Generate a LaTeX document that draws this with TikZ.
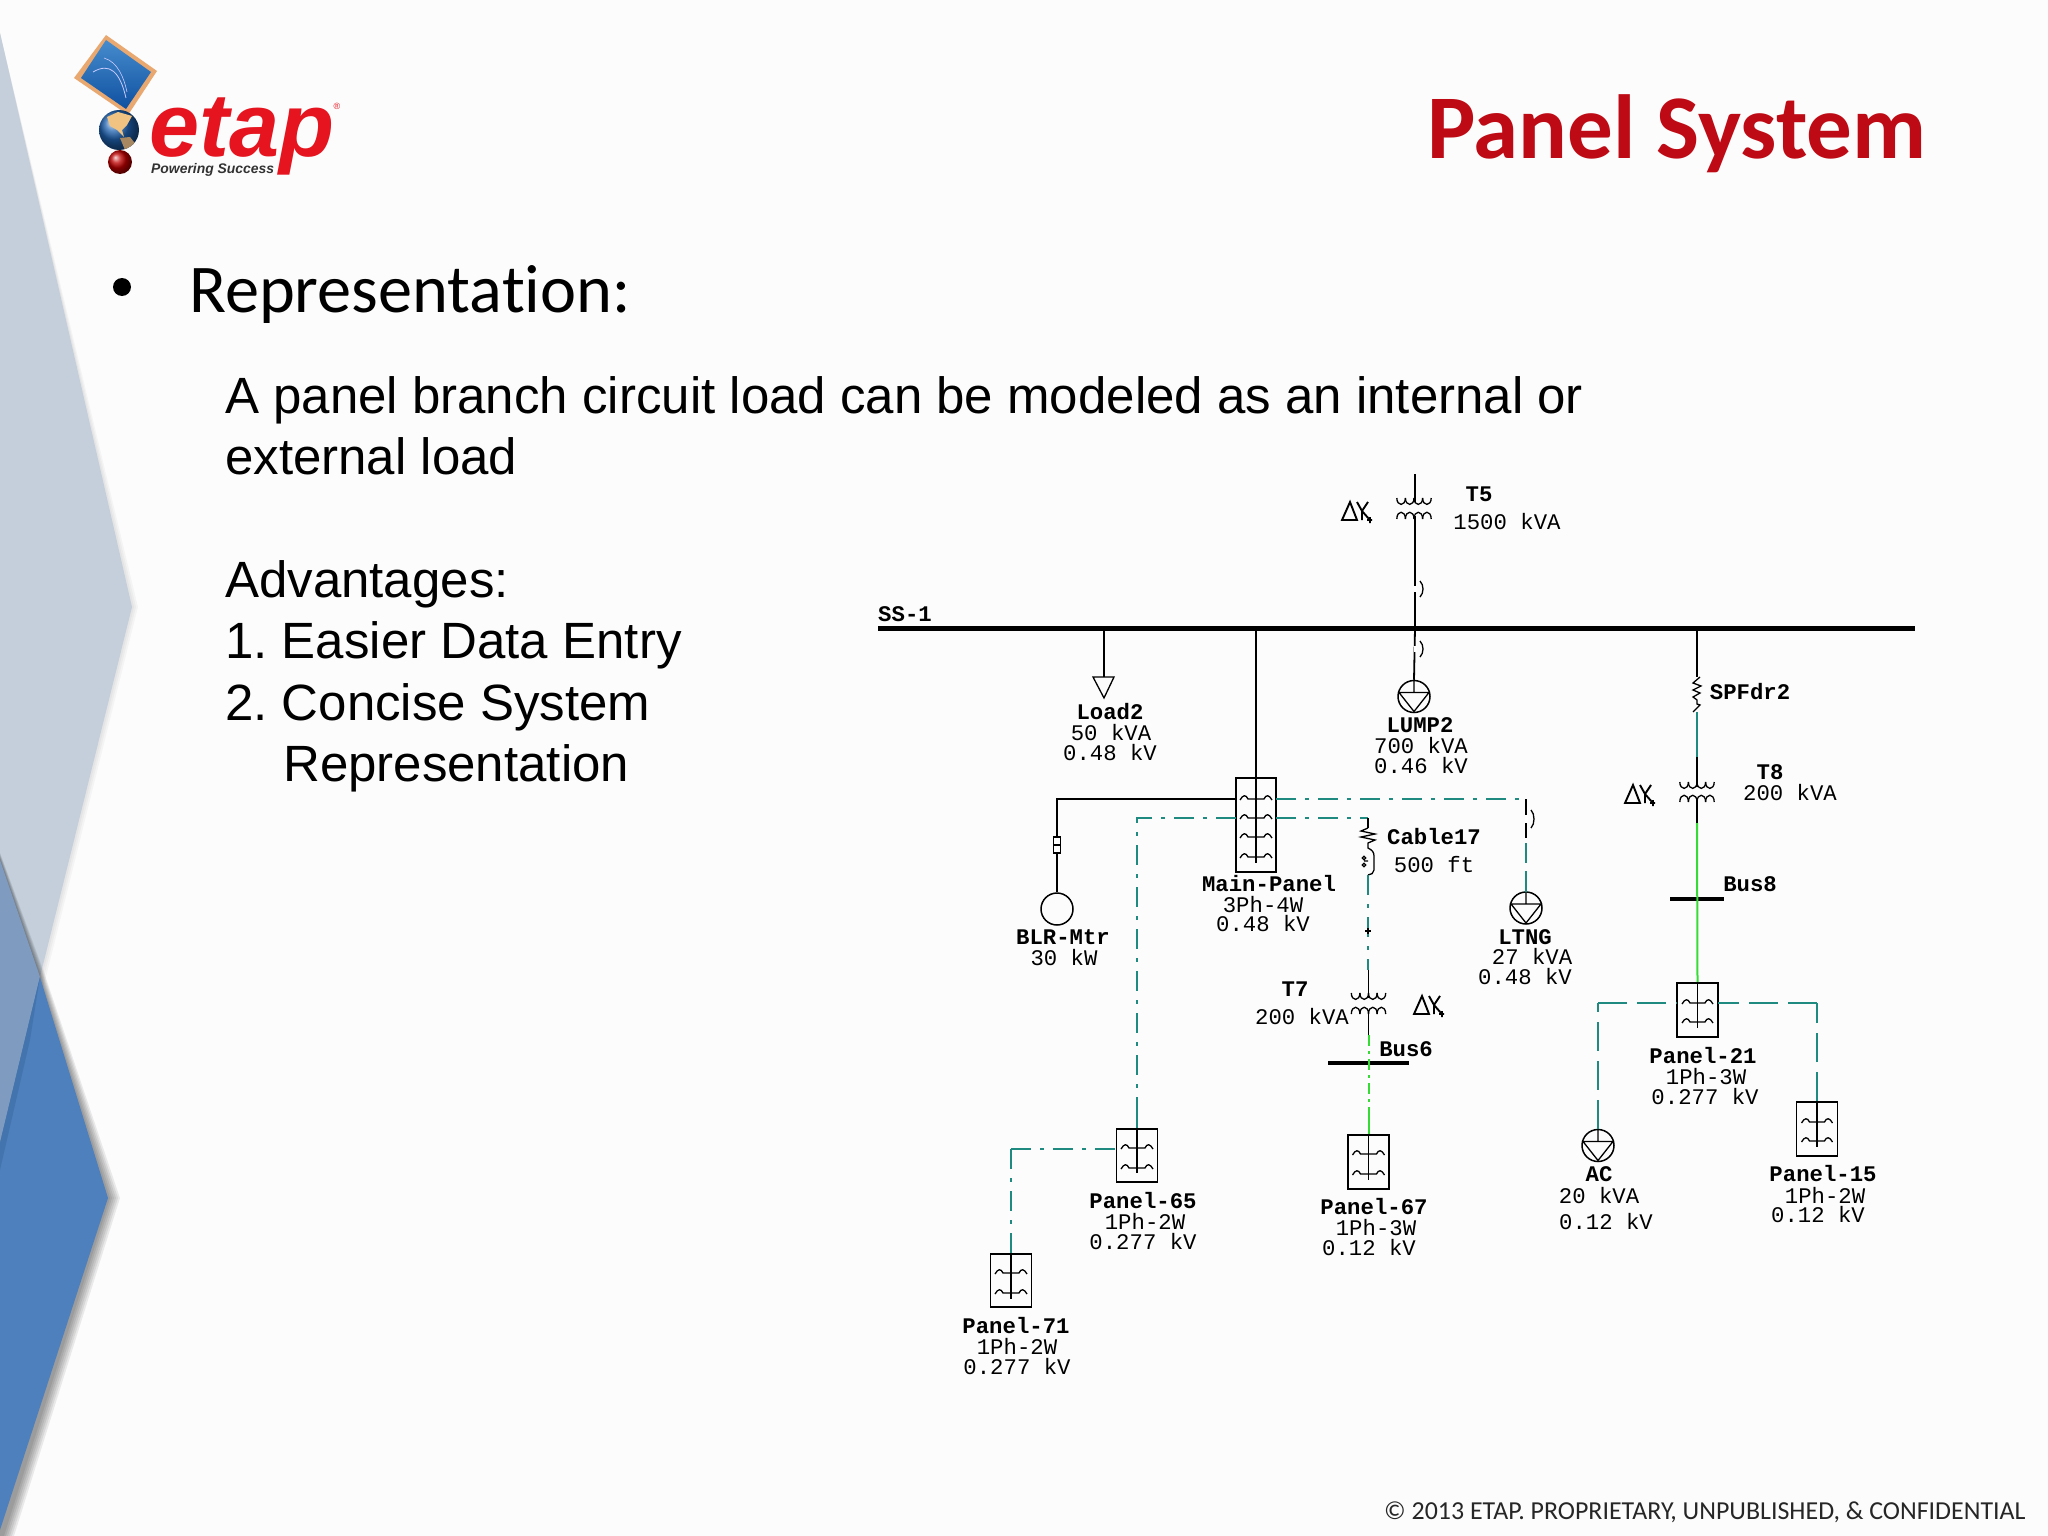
\documentclass[tikz,border=0pt]{standalone}
\usepackage{fontspec}
\setmainfont{Liberation Sans}
\newfontfamily\carl[Ligatures=NoCommon]{Carlito}
\newfontfamily\monof{Liberation Mono}
\usetikzlibrary{calc}
\AtBeginDocument{\frenchspacing}
\definecolor{etapred}{HTML}{E5141F}
\definecolor{titlered}{HTML}{BE0A14}
\definecolor{lightbg}{HTML}{C4CFDB}
\definecolor{midblue}{HTML}{7F9CC0}
\definecolor{mainblue}{HTML}{4E80BD}
\definecolor{darkblue}{HTML}{4474AE}
\definecolor{tealw}{HTML}{1F8A80}
\definecolor{greenw}{HTML}{35DC35}
\definecolor{frametan}{HTML}{E8A870}
\definecolor{scrA}{HTML}{468CCD}
\definecolor{scrB}{HTML}{0F50A0}
\definecolor{globeb}{HTML}{1F62B0}
\definecolor{land}{HTML}{F0C382}
\definecolor{landb}{HTML}{A88860}
\tikzset{
  wire/.style={draw=black,line width=1.8pt},
  tealsolid/.style={draw=tealw,line width=2pt},
  teald/.style={draw=tealw,line width=2pt,dash pattern=on 20pt off 9pt on 4pt off 9pt},
  tealdash/.style={draw=tealw,line width=2pt,dash pattern=on 29pt off 10pt},
  greens/.style={draw=greenw,line width=2pt},
  greend/.style={draw=greenw,line width=2pt,dash pattern=on 11pt off 5pt on 3pt off 5pt},
  sym/.style={draw=black,line width=1.3pt},
  dysym/.style={draw=black,line width=1.9pt},
  panelbox/.style={draw=black,line width=1.8pt,inner sep=0pt,minimum width=41pt},
  busbar/.style={fill=black,inner sep=0pt},
  circ/.style={circle,draw=black,line width=1.5pt,inner sep=0pt,minimum size=32pt},
  lb/.style={inner sep=0pt,text height=14pt,text depth=0pt,font=\monof\bfseries\fontsize{22.3}{24}\selectfont},
  lw/.style={inner sep=0pt,text height=14pt,text depth=0pt,font=\monof\fontsize{22.3}{24}\selectfont},
  bodyt/.style={anchor=base west,inner sep=0pt,font=\fontsize{51}{60}\selectfont},
  shad/.style={fill=black,draw=none},
}
\newcommand{\humpbar}[3]{%
  \draw[sym] ({#1-#3},{#2+1}) .. controls ({#1-#3+3},{#2-4.5}) and ({#1-#3+6},{#2-4.5}) .. ({#1-#3+8},#2) -- ({#1+#3-8},#2) .. controls ({#1+#3-6},{#2-4.5}) and ({#1+#3-3},{#2-4.5}) .. ({#1+#3},{#2+1});}
\newcommand{\xfmr}[3]{%
  \foreach \i in {-1.5,-0.5,0.5,1.5}{
    \draw[sym] ({#1+\i*8.6-4.3},#2) .. controls ({#1+\i*8.6-4.3},{#2+8.5}) and ({#1+\i*8.6+4.3},{#2+8.5}) .. ({#1+\i*8.6+4.3},#2);
    \draw[sym] ({#1+\i*8.6-4.3},{#3+7}) .. controls ({#1+\i*8.6-4.3},{#3-2}) and ({#1+\i*8.6+4.3},{#3-2}) .. ({#1+\i*8.6+4.3},{#3+7});
  }}
\newcommand{\dwy}[2]{%
  \draw[dysym] ({#1},{#2+18}) -- ({#1+8},#2) -- ({#1+15},{#2+18}) -- cycle;
  \draw[dysym] ({#1+15},{#2}) -- ({#1+20},{#2+9}) -- ({#1+26},#2) ({#1+20},{#2+9}) -- ({#1+27},{#2+17}) ({#1+20},{#2+9}) -- ({#1+20},{#2+18}) ({#1+25},{#2+18}) -- ({#1+30},{#2+18}) ({#1+28},{#2+15}) -- ({#1+28},{#2+21});}
\newcommand{\brk}[3]{%
  \draw[white,line width=3pt] (#1,{#2+5}) -- (#1,{#3-5});
  \draw[sym] ({#1+5},#2) .. controls ({#1+9},{#2+4}) and ({#1+9},{#3-4}) .. ({#1+5},#3);}
\newcommand{\lumpsym}[2]{%
  \draw[sym] ({#1-15},{#2-4}) -- ({#1+15},{#2-4}) -- (#1,{#2+15}) -- cycle (#1,{#2-16}) -- (#1,{#2-4});}
\begin{document}
\begin{tikzpicture}[x=1pt,y=-1pt]
\useasboundingbox (0,0) rectangle (2048,1536);
\fill[white!99!black] (0,0) rectangle (2048,1536);
% background chevrons
\foreach \d in {2,4,6}{
  \fill[shad,opacity=0.03] (0,33) -- ({132+\d},607) -- ({40+\d},977) -- (0,1143) -- cycle;}
\fill[lightbg] (0,33) -- (132,607) -- (40,977) -- (0,1143) -- cycle;
\foreach \d in {2,4,6,8,10,12}{
  \fill[shad,opacity=0.075] ({0},{860-\d*0.6}) -- ({40+\d*0.3},{977-\d*0.5}) -- ({108+\d},1198) -- ({\d+2},1536) -- (0,1536) -- cycle;}
\fill[midblue] (0,860) -- (40,977) -- (0,1143) -- cycle;
\fill[mainblue] (40,977) -- (108,1198) -- (0,1530) -- (0,1143) -- cycle;
\fill[darkblue] (40,977) -- (30,1040) -- (0,1170) -- (0,1143) -- cycle;
% logo
\fill[frametan] (106,35) -- (157,71) -- (128,115) -- (74,78) -- cycle;
\shade[top color=scrA,bottom color=scrB] (106,40) -- (151,72) -- (126,109) -- (81,78) -- cycle;
\draw[white!80!blue,line width=0.8pt] (93,72) .. controls (110,62) and (120,72) .. (126,98);
\draw[white!80!blue,line width=0.6pt] (104,58) .. controls (118,62) and (124,78) .. (127,92);
\shade[ball color=globeb] (119,130) circle (20);
\begin{scope}
\clip (119,130) circle (20);
\fill[land] (107,117) -- (118,112) -- (132,116) -- (127,125) -- (122,130) -- (124,137) -- (117,130) -- (110,126) -- cycle;
\fill[landb] (120,138) -- (130,137) -- (137,146) -- (125,150) -- cycle;
\end{scope}
\shade[ball color=red!75!black] (120,162) circle (12);
\node[anchor=base west,inner sep=0pt,text=etapred,font=\bfseries\itshape\fontsize{90}{94}\selectfont] (logotext) at (149,157) {etap};
\node[anchor=base west,inner sep=0pt,text=black!80,font=\bfseries\itshape\fontsize{13.9}{16}\selectfont] (logotag) at (151,173) {Powering Success};
\node[inner sep=0pt,text=etapred,font=\fontsize{9}{10}\selectfont] (logor) at (337,106) {®};
% slide text
\node[anchor=base west,inner sep=0pt,text=titlered,font=\carl\bfseries\fontsize{91}{96}\selectfont] (title) at (1427,159) {Panel System};
\fill[black] (122,287) circle (9);
\node[anchor=base west,inner sep=0pt,font=\carl\fontsize{68.3}{72}\selectfont] (rep) at (189,312) {Representation:};
\node[bodyt] (b1) at (225,413) {A panel branch circuit load can be modeled as an internal or};
\node[bodyt] (b2) at (225,474) {external load};
\node[bodyt] (b3) at (225,597) {Advantages:};
\node[bodyt] (b4) at (225,658) {1. Easier Data Entry};
\node[bodyt] (b5) at (225,720) {2. Concise System};
\node[bodyt] (b6) at (283,781) {Representation};
\node[anchor=base west,inner sep=0pt,font=\carl\fontsize{25.9}{28}\selectfont,text=black!85] (copy) at (1384,1519) {© 2013 ETAP. PROPRIETARY, UNPUBLISHED, \& CONFIDENTIAL};
% buses
\node[busbar,minimum width=1037pt,minimum height=5pt] (ss) at (1396.5,628) {};
\node[busbar,minimum width=54pt,minimum height=4.5pt] (bus8) at (1697,899) {};
\node[busbar,minimum width=81pt,minimum height=4.5pt] (bus6) at (1368.5,1063) {};
% panels
\node[panelbox,minimum width=40pt,minimum height=94pt] (pm) at (1256,825) {};
\node[panelbox,minimum height=53pt] (p65) at (1137,1155.5) {};
\node[panelbox,minimum height=53pt] (p71) at (1011,1280.5) {};
\node[panelbox,minimum height=54pt] (p67) at (1368.5,1162) {};
\node[panelbox,minimum height=54pt] (p21) at (1697.5,1010) {};
\node[panelbox,minimum height=54pt] (p15) at (1817,1129) {};
% loads
\node[circ] (lump2) at (1414,696.5) {};
\node[circ] (ltng) at (1526,908) {};
\node[circ] (ac) at (1598,1145.5) {};
\node[circ] (mtr) at (1057,909) {};
\coordinate (load2) at (1104,677);
\coordinate (t5top) at (1415,474);
% T5 / LUMP2
\draw[wire] (t5top) -- (1415,502);
\draw[wire] (1415,516) -- (1415,628) -- (lump2.north);
\xfmr{1414}{498}{512}
\dwy{1342}{502}
\brk{1415}{581}{597}
\brk{1415}{641}{657}
\lumpsym{1414}{696.5}
% Load2
\draw[wire] (load2 |- ss.south) -- (load2);
\draw[sym] (1093,677) -- (1114,677) -- (1104,698) -- cycle;
% Main panel
\draw[wire] (pm.north |- ss.south) -- (1256,863);
\humpbar{1256}{799}{16}\humpbar{1256}{818}{16}\humpbar{1256}{837}{16}\humpbar{1256}{857}{16}
\coordinate (pmL1) at (1236,799);
\coordinate (pmL2) at (1236,818);
\coordinate (pmR1) at (1276,799);
\coordinate (pmR2) at (1276,818);
\draw[wire] (pmL1) -- (1057,799) -- (mtr.north);
\draw[wire,fill=white] (1053.5,837) rectangle (1060.5,853);
\draw[sym] (1053.5,845) -- (1060.5,845);
% LTNG branch
\draw[teald] (pmR1) -- (1526,799) -- (1526,893);
\draw[wire,line width=1.6pt] (1526,799) -- (1526,838);
\draw[tealsolid] (1526,871) -- (ltng.north);
\brk{1526}{810}{828}
\lumpsym{1526}{908}
% Panel-65 / 71
\draw[teald] (pmL2) -- (1137,818) -- (p65.north);
\draw[tealsolid] (1137,1115) -- (p65.north);
\draw[wire] (p65.north) -- (1137,1173);
\humpbar{1137}{1148}{16}\humpbar{1137}{1168}{16}
\coordinate (p65L) at (1116,1149);
\draw[teald] (1011,1149) -- (p65L);
\draw[teald] (1011,1149) -- (p71.north);
\draw[tealsolid] (1011,1240) -- (p71.north);
\draw[wire] (p71.north) -- (1011,1299);
\humpbar{1011}{1273}{16}\humpbar{1011}{1293}{16}
% Cable branch to T7
\draw[teald] (pmR2) -- (1368,818);
\draw[wire] (1368,818) -- (1368,828);
\draw[sym] (1368,828) -- (1361,831) -- (1375,834) -- (1361,837) -- (1375,840) -- (1368,843) -- (1368,848)
  .. controls (1372,850) and (1374,852) .. (1374,856) -- (1374,870) .. controls (1374,873) and (1371,875) .. (1368,875);
\draw[sym] (1364,858) circle (1.8) (1364,865) circle (1.8) (1364,861) -- (1368,861);
\draw[teald] (1368,875) -- (1368,970);
\draw[sym] (1365,931) -- (1371,931) (1368,928) -- (1368,934);
\coordinate (t7top) at (1368.5,970);
\draw[wire] (t7top) -- (1368.5,998);
\draw[wire] (1368.5,1010) -- (1368.5,1035);
\xfmr{1368.5}{993}{1007}
\dwy{1414}{996}
\draw[greend] (1368.5,1035) -- (p67.north);
\draw[greens] (1368.5,1115) -- (p67.north);
\draw[wire] (p67.north) -- (1368.5,1180);
\humpbar{1368.5}{1154}{16}\humpbar{1368.5}{1174}{16}
% SPFdr2 / T8 / Bus8 / Panel-21
\draw[wire] (1697,630) -- (1697,677);
\draw[sym] (1700,677) -- (1693,683) -- (1701,686) -- (1693,690) -- (1700,693) -- (1693,697) -- (1697,700) -- (1697,704) -- (1700,705) -- (1693,712);
\draw[tealsolid] (1697,712) -- (1697,757);
\draw[wire] (1697,757) -- (1697,787);
\draw[wire] (1697,798) -- (1697,823);
\xfmr{1697}{782}{795}
\dwy{1625}{785}
\draw[greens] (1697,823) -- (p21.north);
\draw[wire] (p21.north) -- (1697.5,1028);
\humpbar{1697.5}{1003}{15.5}\humpbar{1697.5}{1022}{15.5}
\coordinate (p21L) at (1677,1003);
\coordinate (p21R) at (1718,1003);
\draw[tealdash] (1598,1003) -- (p21L);
\draw[tealdash] (ac.north) -- (1598,1003);
\lumpsym{1598}{1145.5}
\draw[tealdash] (1817,1003) -- (p21R);
\draw[tealdash] (p15.north) -- (1817,1003);
\draw[wire] (p15.north) -- (1817,1147);
\humpbar{1817}{1122}{15.5}\humpbar{1817}{1141}{15.5}
% labels
\node[lb] (n01) at (905,614) {SS-1};
\node[lb] (n02) at (1479,494) {T5};
\node[lw] (n03) at (1507,522) {1500 kVA};
\node[lb] (n04) at (1110,712) {Load2};
\node[lw] (n05) at (1111,733) {50 kVA};
\node[lw] (n06) at (1110,753) {0.48 kV};
\node[lb] (n07) at (1420,725) {LUMP2};
\node[lw] (n08) at (1421,746) {700 kVA};
\node[lw] (n09) at (1421,766) {0.46 kV};
\node[lb] (n10) at (1750,692) {SPFdr2};
\node[lb] (n11) at (1770,772) {T8};
\node[lw] (n12) at (1790,793) {200 kVA};
\node[lb] (n13) at (1750,884) {Bus8};
\node[lb] (n14) at (1269,884) {Main-Panel};
\node[lw] (n15) at (1263,905) {3Ph-4W};
\node[lw] (n16) at (1263,924) {0.48 kV};
\node[lb] (n17) at (1063,937) {BLR-Mtr};
\node[lw] (n18) at (1064,958) {30 kW};
\node[lb] (n19) at (1434,837) {Cable17};
\node[lw] (n20) at (1434,865) {500 ft};
\node[lb] (n21) at (1525,937) {LTNG};
\node[lw] (n22) at (1532,957) {27 kVA};
\node[lw] (n23) at (1525,977) {0.48 kV};
\node[lb] (n24) at (1295,989) {T7};
\node[lw] (n25) at (1302,1017) {200 kVA};
\node[lb] (n26) at (1406,1049) {Bus6};
\node[lb] (n27) at (1143,1201) {Panel-65};
\node[lw] (n28) at (1145,1222) {1Ph-2W};
\node[lw] (n29) at (1143,1242) {0.277 kV};
\node[lb] (n30) at (1016,1326) {Panel-71};
\node[lw] (n31) at (1017,1347) {1Ph-2W};
\node[lw] (n32) at (1017,1367) {0.277 kV};
\node[lb] (n33) at (1374,1207) {Panel-67};
\node[lw] (n34) at (1376,1228) {1Ph-3W};
\node[lw] (n35) at (1369,1248) {0.12 kV};
\node[lb] (n36) at (1703,1056) {Panel-21};
\node[lw] (n37) at (1706,1077) {1Ph-3W};
\node[lw] (n38) at (1705,1097) {0.277 kV};
\node[lb] (n39) at (1599,1174) {AC};
\node[lw] (n40) at (1599,1196) {20 kVA};
\node[lw] (n41) at (1606,1222) {0.12 kV};
\node[lb] (n42) at (1823,1174) {Panel-15};
\node[lw] (n43) at (1825,1196) {1Ph-2W};
\node[lw] (n44) at (1818,1215) {0.12 kV};
\end{tikzpicture}
\end{document}
